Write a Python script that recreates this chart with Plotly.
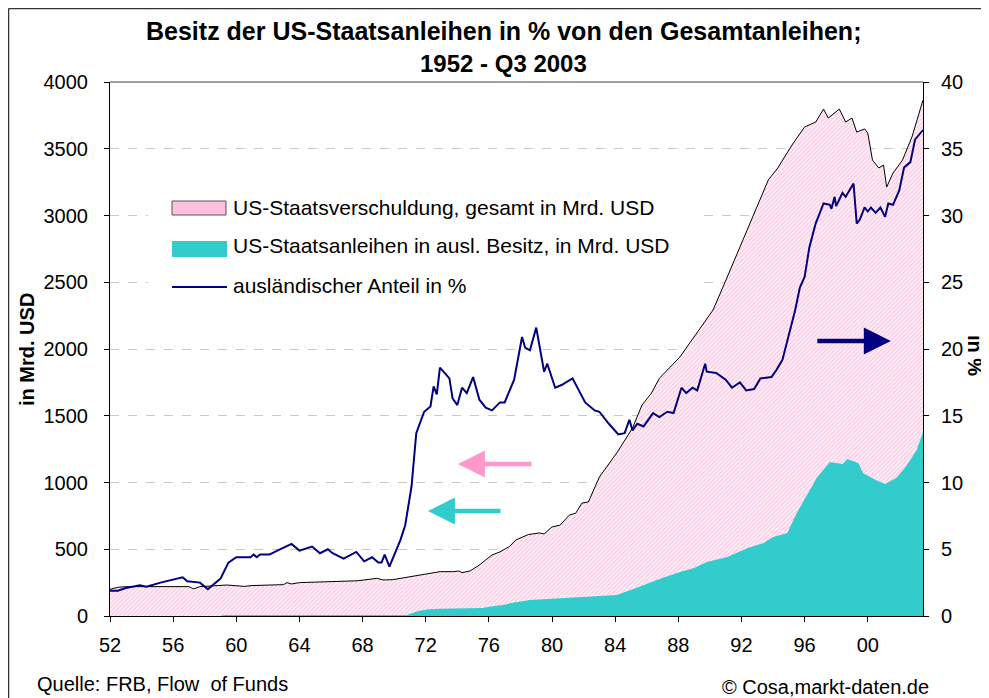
import plotly.graph_objects as go

# ---------------- data ----------------
years_total = [1952.0, 1952.5, 1953.0, 1954.5, 1956.0, 1957.0, 1957.3, 1957.7, 1959.4, 1960.0,
               1960.5, 1961.0, 1963.0, 1963.2, 1963.5, 1964.0, 1966.0, 1967.7, 1968.9, 1969.3,
               1969.9, 1970.8, 1971.8, 1972.9, 1973.7, 1974.1, 1974.3, 1974.8, 1975.4, 1976.2,
               1976.7, 1977.3, 1977.7, 1978.0, 1978.5, 1979.2, 1979.5, 1980.0, 1980.5, 1981.1,
               1981.5, 1981.9, 1982.3, 1983.0, 1984.1, 1985.1, 1985.7, 1986.3, 1986.8, 1988.1,
               1989.2, 1990.2, 1991.1, 1991.9, 1992.8, 1993.7, 1994.3, 1995.2, 1996.0, 1996.7,
               1997.2, 1997.5, 1998.2, 1998.6, 1999.0, 1999.3, 1999.8, 2000.0, 2000.3, 2000.7,
               2001.0, 2001.2, 2001.6, 2002.2, 2002.8, 2003.5]
total_debt = [200, 215, 220, 222, 222, 220, 203, 220, 232, 228,
              222, 228, 235, 250, 240, 250, 256, 264, 282, 270,
              272, 290, 307, 332, 332, 337, 325, 337, 382, 457,
              480, 520, 569, 584, 610, 622, 615, 667, 680, 756,
              770, 846, 854, 1041, 1221, 1408, 1580, 1670, 1780, 1940,
              2127, 2292, 2539, 2764, 3018, 3266, 3356, 3528, 3663, 3700,
              3797, 3730, 3797, 3700, 3730, 3625, 3648, 3618, 3415, 3356,
              3378, 3213, 3318, 3415, 3588, 3865]

years_foreign = [1952.0, 1959.0, 1959.2, 1970.8, 1971.2, 1971.6, 1972.2, 1972.9, 1975.6, 1976.0,
                 1977.0, 1977.5, 1978.6, 1980.9, 1982.4, 1984.1, 1985.5, 1986.8, 1988.1, 1989.0,
                 1989.8, 1991.1, 1992.4, 1993.4, 1994.0, 1994.9, 1995.5, 1996.1, 1996.8, 1997.6,
                 1998.4, 1998.7, 1999.4, 1999.7, 2000.5, 2001.1, 2001.8, 2002.4, 2003.1, 2003.5]
foreign_holdings = [0, 0, 8, 8, 25, 40, 50, 55, 60, 70,
                    85, 100, 120, 135, 142, 157, 217, 277, 330, 360,
                    404, 442, 509, 547, 592, 622, 771, 891, 1041, 1153,
                    1138, 1176, 1146, 1071, 1019, 989, 1034, 1116, 1243, 1378]

years_share = [1952.0, 1952.5, 1953.0, 1953.9, 1954.3, 1955.2, 1956.6, 1956.9, 1957.7, 1958.2,
               1959.0, 1959.5, 1960.0, 1960.9, 1961.1, 1961.3, 1961.5, 1962.1, 1962.6, 1963.5,
               1964.0, 1964.8, 1965.3, 1965.8, 1966.1, 1966.8, 1967.6, 1968.1, 1968.6, 1969.0,
               1969.2, 1969.4, 1969.7, 1970.4, 1970.7, 1971.1, 1971.4, 1971.9, 1972.3, 1972.5,
               1972.7, 1972.9, 1973.5, 1973.7, 1974.0, 1974.3, 1974.6, 1975.0, 1975.4, 1975.8,
               1976.2, 1976.7, 1977.0, 1977.6, 1978.1, 1978.3, 1978.6, 1979.0, 1979.5, 1979.7,
               1980.2, 1980.6, 1981.3, 1981.8, 1982.1, 1982.7, 1983.0, 1983.6, 1984.2, 1984.6,
               1984.9, 1985.1, 1985.4, 1985.8, 1986.4, 1986.8, 1987.3, 1987.7, 1988.2, 1988.5,
               1988.9, 1989.2, 1989.7, 1989.8, 1990.4, 1991.0, 1991.4, 1991.9, 1992.3, 1992.8,
               1993.2, 1993.9, 1994.2, 1994.6, 1995.1, 1995.4, 1995.7, 1996.0, 1996.3, 1996.7,
               1997.2, 1997.6, 1997.7, 1997.9, 1998.0, 1998.4, 1998.6, 1999.1, 1999.3, 1999.5,
               1999.8, 2000.0, 2000.2, 2000.5, 2000.8, 2001.1, 2001.3, 2001.6, 2002.0, 2002.3,
               2002.7, 2003.0, 2003.5]
foreign_share = [1.9, 1.9, 2.1, 2.3, 2.2, 2.5, 2.9, 2.6, 2.5, 2.0,
                 2.8, 4.0, 4.4, 4.4, 4.6, 4.4, 4.6, 4.6, 4.9, 5.4,
                 4.9, 5.2, 4.7, 5.0, 4.7, 4.3, 4.8, 4.1, 4.4, 4.0,
                 4.0, 4.6, 3.7, 5.7, 6.8, 9.7, 13.7, 15.3, 15.7, 17.2,
                 16.6, 18.6, 17.8, 16.3, 15.8, 17.1, 16.7, 17.9, 16.2, 15.6,
                 15.4, 16.0, 16.0, 17.7, 20.9, 20.1, 19.9, 21.6, 18.3, 18.9,
                 17.1, 17.3, 17.8, 16.7, 16.0, 15.4, 15.3, 14.4, 13.6, 13.7,
                 14.7, 13.9, 14.4, 14.2, 15.2, 14.9, 15.3, 15.2, 17.1, 16.7,
                 17.1, 16.9, 18.9, 18.3, 18.2, 17.7, 17.1, 17.5, 16.9, 17.0,
                 17.8, 17.9, 18.4, 19.2, 21.6, 22.9, 24.6, 25.4, 27.6, 29.4,
                 30.9, 30.8, 30.5, 31.4, 30.7, 31.7, 31.4, 32.4, 29.4, 29.7,
                 30.6, 30.3, 30.6, 30.2, 30.6, 29.9, 30.9, 30.8, 31.9, 33.6,
                 34.0, 35.7, 36.4]

tick_years = [1952, 1956, 1960, 1964, 1968, 1972, 1976, 1980, 1984, 1988, 1992, 1996, 2000]
tick_labels = ["52", "56", "60", "64", "68", "72", "76", "80", "84", "88", "92", "96", "00"]

name_total = "US-Staatsverschuldung, gesamt in Mrd. USD"
name_foreign = "US-Staatsanleihen in ausl. Besitz, in Mrd. USD"
name_share = "ausländischer Anteil in %"

FONT = "Liberation Sans, Arial, sans-serif"
PINK = "#FF99CC"
TEAL = "#33CCCC"
NAVY = "#000080"

# page body has an 8px margin: screen pixel -> paper coordinates
PL, PT, PW, PH = 110, 82, 813, 534


def px(X):
    return (X - PL) / PW


def py(Y):
    return (PT + PH - Y) / PH


fig = go.Figure()
fig.add_trace(go.Scatter(
    x=years_total, y=total_debt, name=name_total, mode="lines",
    fill="tozeroy", line=dict(color="black", width=1),
    fillcolor=PINK,
    fillpattern=dict(shape="/", fgcolor=PINK, bgcolor="#FFFFFF", size=3, solidity=0.62),
    showlegend=False, hoverinfo="skip"))
fig.add_trace(go.Scatter(
    x=years_foreign, y=foreign_holdings, name=name_foreign, mode="lines",
    fill="tozeroy", line=dict(color=TEAL, width=0), fillcolor=TEAL,
    showlegend=False, hoverinfo="skip"))
fig.add_trace(go.Scatter(
    x=years_share, y=foreign_share, name=name_share, mode="lines",
    line=dict(color=NAVY, width=2), yaxis="y2",
    showlegend=False, hoverinfo="skip"))

axis_font = dict(family=FONT, size=20, color="black")

fig.update_layout(
    width=981, height=690,
    margin=dict(l=102, r=66, t=74, b=82),
    paper_bgcolor="white", plot_bgcolor="white",
    font=dict(family=FONT, color="black"),
    xaxis=dict(range=[1952, 2003.5], tickvals=tick_years, ticktext=tick_labels,
               ticks="outside", ticklen=5, tickcolor="black", showline=True,
               linecolor="black", linewidth=1, showgrid=False, zeroline=False,
               tickfont=axis_font, ticklabelstandoff=6),
    yaxis=dict(range=[0, 4000], dtick=500, ticks="outside", ticklen=5, tickcolor="black",
               showline=True, linecolor="black", linewidth=1, zeroline=False,
               showgrid=True, gridcolor="#C8C8C8", griddash="dash", gridwidth=1,
               tickfont=axis_font, ticklabelstandoff=12),
    yaxis2=dict(range=[0, 40], dtick=5, overlaying="y", side="right",
                ticks="outside", ticklen=5, tickcolor="black", showline=True,
                linecolor="black", linewidth=1, showgrid=False, zeroline=False,
                tickfont=axis_font, ticklabelstandoff=8),
)


def txt(text, X, Y, size=20, xanchor="center", angle=0):
    return dict(text=text, x=px(X), y=py(Y), xref="paper", yref="paper",
                xanchor=xanchor, yanchor="middle", textangle=angle,
                showarrow=False, font=dict(family=FONT, size=size, color="black"))


def arrow(x_tip, x_tail, y, color, yref="y"):
    return dict(text="", x=x_tip, y=y, ax=x_tail, ay=y, xref="x", yref=yref,
                axref="x", ayref=yref, showarrow=True, arrowhead=2, arrowwidth=4.5,
                arrowsize=1.2, arrowcolor=color)


annotations = [
    txt("<b>Besitz der US-Staatsanleihen in % von den Gesamtanleihen;</b>", 503, 31, size=25),
    txt("<b>1952 - Q3 2003</b>", 503, 64, size=24),
    txt("<b>in Mrd. USD</b>", 27, 350, size=20, angle=-90),
    txt("<b>in %</b>", 975, 355, size=20, angle=90),
    txt("Quelle: FRB, Flow  of Funds", 35, 684, xanchor="left"),
    txt("© Cosa,markt-daten.de", 931, 687, xanchor="right"),
    # legend texts
    txt(name_total, 231, 207, size=21, xanchor="left"),
    txt(name_foreign, 231, 246, size=21, xanchor="left"),
    txt(name_share, 231, 285, size=21, xanchor="left"),
    # direction arrows
    arrow(1974.04, 1978.8, 1138, PINK),
    arrow(1972.14, 1976.83, 786, TEAL),
    arrow(2001.46, 1996.71, 20.6, NAVY, yref="y2"),
]
fig.update_layout(annotations=annotations)

shapes = [
    # grey top border of plot area
    dict(type="line", xref="paper", yref="paper", x0=0, x1=1, y0=1, y1=1,
         line=dict(color="#808080", width=1.5)),
    # outer chart frame (left and top edges visible)
    dict(type="line", xref="paper", yref="paper", x0=px(8.5), x1=px(8.5),
         y0=py(8.5), y1=py(700), line=dict(color="#333333", width=1.5)),
    dict(type="line", xref="paper", yref="paper", x0=px(8.5), x1=px(990),
         y0=py(8.5), y1=py(8.5), line=dict(color="#333333", width=1.5)),
    # legend box (white, hides grid lines)
    dict(type="rect", xref="paper", yref="paper", x0=px(148), x1=px(695),
         y0=py(300), y1=py(180), fillcolor="white", line=dict(width=0), layer="above"),
    dict(type="rect", xref="paper", yref="paper", x0=px(172), x1=px(226),
         y0=py(215), y1=py(201), fillcolor="#FFC0E0",
         line=dict(color="#555555", width=1), layer="above"),
    dict(type="rect", xref="paper", yref="paper", x0=px(172), x1=px(227),
         y0=py(257), y1=py(241), fillcolor=TEAL, line=dict(width=0), layer="above"),
    dict(type="line", xref="paper", yref="paper", x0=px(172), x1=px(227),
         y0=py(287), y1=py(287), line=dict(color=NAVY, width=2), layer="above"),
]
fig.update_layout(shapes=shapes)

fig.write_html("out.html")
